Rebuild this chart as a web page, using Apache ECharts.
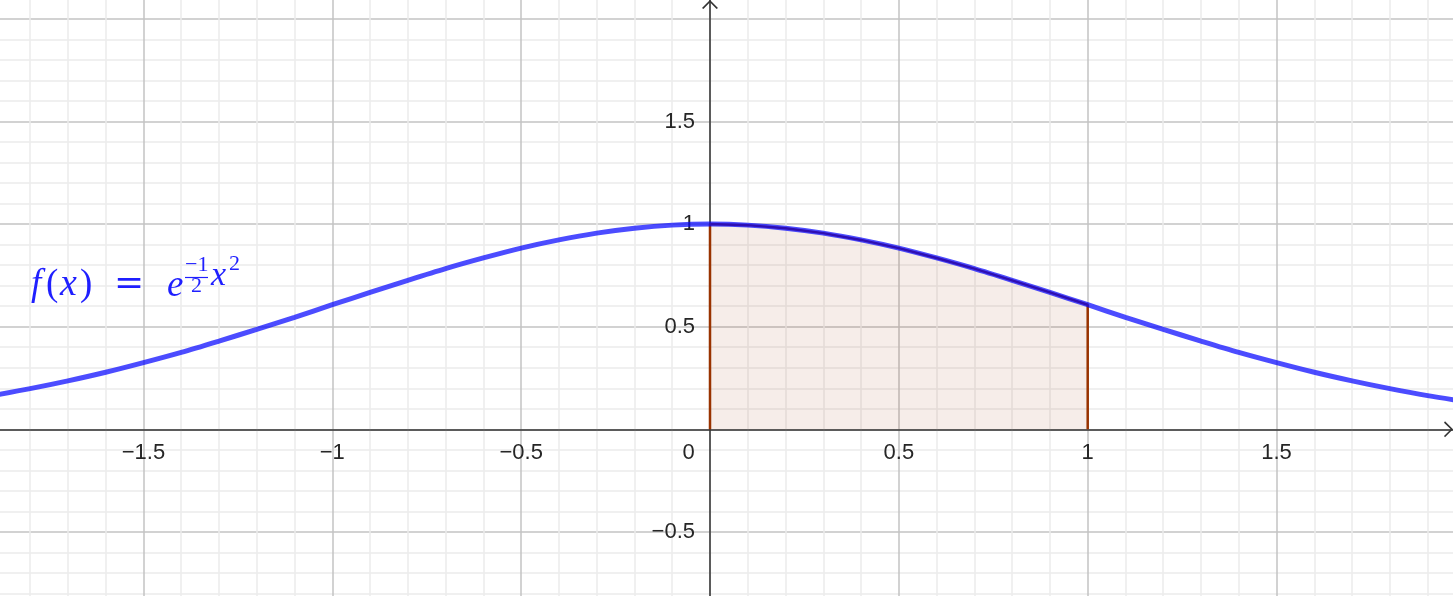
<!DOCTYPE html>
<html>
<head>
<meta charset="utf-8">
<script src="https://cdn.jsdelivr.net/npm/echarts@6/dist/echarts.min.js"></script>
<style>
  * { margin: 0; padding: 0; }
  html, body { width: 1453px; height: 596px; background: #fff; overflow: hidden; }
  #main { width: 1453px; height: 596px; }
</style>
</head>
<body>
<div id="main"></div>
<script>
// f(x) = e^(-x^2/2)
var curveX = [-1.9, -1.8, -1.7, -1.6, -1.5, -1.4, -1.3, -1.2, -1.1, -1.0,
              -0.9, -0.8, -0.7, -0.6, -0.5, -0.4, -0.3, -0.2, -0.1, 0.0,
              0.1, 0.2, 0.3, 0.4, 0.5, 0.6, 0.7, 0.8, 0.9, 1.0,
              1.1, 1.2, 1.3, 1.4, 1.5, 1.6, 1.7, 1.8, 1.9, 2.0];
var curveY = [0.164, 0.198, 0.236, 0.278, 0.325, 0.375, 0.430, 0.487, 0.546, 0.607,
              0.667, 0.726, 0.783, 0.835, 0.883, 0.923, 0.956, 0.980, 0.995, 1.000,
              0.995, 0.980, 0.956, 0.923, 0.883, 0.835, 0.783, 0.726, 0.667, 0.607,
              0.546, 0.487, 0.430, 0.375, 0.325, 0.278, 0.236, 0.198, 0.164, 0.135];
// shaded integral from a to b
var areaFrom = 0;
var areaTo = 1;
// tick labels
var xTickStep = 0.5;
var yTickStep = 0.5;
var hiddenYLabels = [0, 2];

var curveData = curveX.map(function (x, i) { return [x, curveY[i]]; });
var areaData = [[areaFrom, 0]];
curveX.forEach(function (x, i) {
  if (x >= areaFrom - 1e-9 && x <= areaTo + 1e-9) areaData.push([x, curveY[i]]);
});
areaData.push([areaTo, 0]);

function minus(v) { return String(v).replace('-', '\u2212'); }

var labelFont = { fontFamily: 'Liberation Sans', fontSize: 22, color: '#262626' };
var blue = '#1f1fff';
var arrowPath = 'path://M8,0 L16,8 L14.6,9 L8,2.2 L1.4,9 L0,8 Z';

var chart = echarts.init(document.getElementById('main'));
chart.setOption({
  animation: false,
  backgroundColor: '#fff',
  grid: [
    // scale grid: 0 at (710, 429.3), 377.7 px per x unit, 205.2 px per y unit
    { left: -45.4, right: -12.4, top: -83.7, bottom: -38.5, outerBoundsMode: 'none', containLabel: false },
    // overlay grid covering the canvas, for axis lines with arrows
    { left: 0, right: 0, top: 0, bottom: 0, outerBoundsMode: 'none', containLabel: false }
  ],
  xAxis: [
    {
      type: 'value', gridIndex: 0, min: -2, max: 2, interval: xTickStep,
      position: 'bottom', offset: -205.2,
      axisLine: { show: false, onZero: false },
      axisTick: { show: false },
      minorTick: { show: false, splitNumber: 5 },
      axisLabel: {
        margin: 13,
        fontFamily: labelFont.fontFamily, fontSize: labelFont.fontSize, color: labelFont.color,
        formatter: function (v) {
          if (Math.abs(v) >= 2) return '';
          if (v === 0) return '{z|0}';
          return minus(v);
        },
        rich: { z: { fontFamily: labelFont.fontFamily, fontSize: labelFont.fontSize, color: labelFont.color, padding: [0, 43, 0, 0] } }
      },
      splitLine: { show: true, lineStyle: { color: '#c3c3c3', width: 1.5 } },
      minorSplitLine: { show: true, lineStyle: { color: '#ebebeb', width: 1.5 } }
    },
    {
      type: 'value', gridIndex: 1, min: -1.8798, max: 1.9672,
      axisLine: {
        show: true, onZero: true,
        symbol: ['none', arrowPath], symbolSize: [16, 9], symbolOffset: [0, -4.5],
        lineStyle: { color: '#333', width: 1.5 }
      },
      axisTick: { show: false }, axisLabel: { show: false }, splitLine: { show: false }
    }
  ],
  yAxis: [
    {
      type: 'value', gridIndex: 0, min: -1, max: 2.5, interval: yTickStep,
      position: 'left', offset: -755.4,
      axisLine: { show: false, onZero: false },
      axisTick: { show: false },
      minorTick: { show: false, splitNumber: 5 },
      axisLabel: {
        margin: 15,
        fontFamily: labelFont.fontFamily, fontSize: labelFont.fontSize, color: labelFont.color,
        formatter: function (v) {
          if (v <= -1 || v >= 2.5 || hiddenYLabels.indexOf(v) >= 0) return '';
          return minus(v);
        }
      },
      splitLine: { show: true, lineStyle: { color: '#c3c3c3', width: 1.5 } },
      minorSplitLine: { show: true, lineStyle: { color: '#ebebeb', width: 1.5 } }
    },
    {
      type: 'value', gridIndex: 1, min: -0.8124, max: 2.0921,
      axisLine: {
        show: true, onZero: true,
        symbol: ['none', arrowPath], symbolSize: [16, 9], symbolOffset: [0, -4.5],
        lineStyle: { color: '#333', width: 1.5 }
      },
      axisTick: { show: false }, axisLabel: { show: false }, splitLine: { show: false }
    }
  ],
  series: [
    {
      name: 'integral', type: 'line', xAxisIndex: 0, yAxisIndex: 0,
      data: areaData, showSymbol: false, smooth: false, z: 3,
      lineStyle: { color: '#993300', width: 2.5 },
      areaStyle: { color: 'rgba(153, 51, 0, 0.12)', origin: 0 }
    },
    {
      name: 'f', type: 'line', xAxisIndex: 0, yAxisIndex: 0,
      data: curveData, showSymbol: false, smooth: 0.3, z: 4,
      lineStyle: { color: 'rgba(0, 0, 255, 0.7)', width: 5 }
    }
  ],
  graphic: [
    { type: 'text', z: 100, style: { text: 'f', x: 31, y: 285, font: 'italic 37px "Liberation Serif"', fill: blue, align: 'left', verticalAlign: 'middle' } },
    { type: 'text', z: 100, style: { text: '(', x: 46, y: 285, font: '37px "Liberation Serif"', fill: blue, align: 'left', verticalAlign: 'middle' } },
    { type: 'text', z: 100, style: { text: 'x', x: 60, y: 285, font: 'italic 38px "Liberation Serif"', fill: blue, align: 'left', verticalAlign: 'middle' } },
    { type: 'text', z: 100, style: { text: ')', x: 80, y: 285, font: '37px "Liberation Serif"', fill: blue, align: 'left', verticalAlign: 'middle' } },
    { type: 'text', z: 100, style: { text: '=', x: 114, y: 285, font: '36px "DejaVu Serif"', fill: blue, align: 'left', verticalAlign: 'middle' } },
    { type: 'text', z: 100, style: { text: 'e', x: 167, y: 286, font: 'italic 37px "Liberation Serif"', fill: blue, align: 'left', verticalAlign: 'middle' } },
    { type: 'text', z: 100, style: { text: '\u22121', x: 185, y: 265, font: '22px "Liberation Serif"', fill: blue, align: 'left', verticalAlign: 'middle' } },
    { type: 'line', z: 100, shape: { x1: 185, y1: 277.5, x2: 208, y2: 277.5 }, style: { stroke: blue, lineWidth: 1.2 } },
    { type: 'text', z: 100, style: { text: '2', x: 196.5, y: 286, font: '22px "Liberation Serif"', fill: blue, align: 'center', verticalAlign: 'middle' } },
    { type: 'text', z: 100, style: { text: 'x', x: 211, y: 276, font: 'italic 34px "Liberation Serif"', fill: blue, align: 'left', verticalAlign: 'middle' } },
    { type: 'text', z: 100, style: { text: '2', x: 229, y: 264, font: '22px "Liberation Serif"', fill: blue, align: 'left', verticalAlign: 'middle' } }
  ]
});
</script>
</body>
</html>
